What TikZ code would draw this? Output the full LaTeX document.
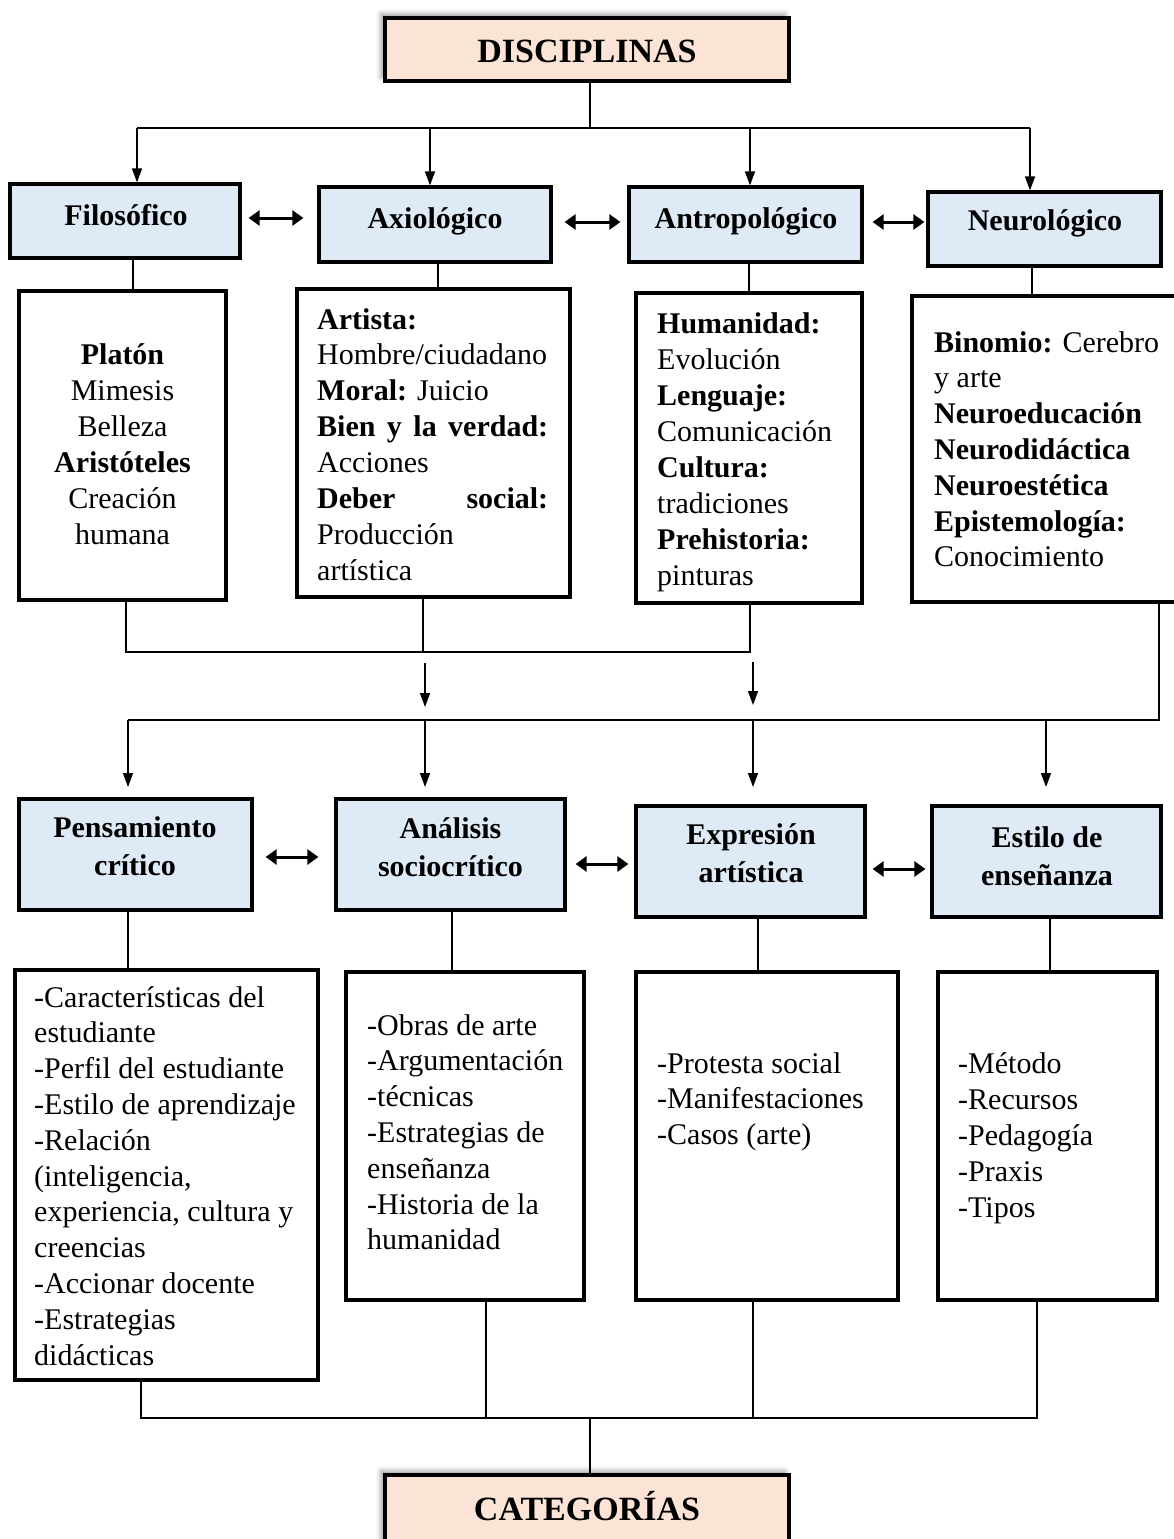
\documentclass[tikz,border=0pt]{standalone}
\usepackage{fontspec}
\setmainfont{Liberation Serif}
\usetikzlibrary{arrows.meta,shadows.blur}
\definecolor{hdrblue}{HTML}{DEEAF6}
\definecolor{peach}{HTML}{FBE4D5}
\newcommand\LBlock[2][36pt]{\vtop{\baselineskip=#1\relax\halign{##\hfil\cr#2\crcr}}}
\newcommand\CBlock[2][36pt]{\vtop{\baselineskip=#1\relax\halign{\hfil##\hfil\cr#2\crcr}}}
\begin{document}
\begin{tikzpicture}[x=1pt,y=-1pt,
  every node/.style={inner sep=0pt, font=\fontsize{30}{36}\selectfont},
  cbox/.style={draw=black, line width=3.2pt, rectangle, fill=white},
  hdr/.style={cbox, fill=hdrblue},
  endbox/.style={cbox, fill=peach, blur shadow={shadow xshift=-4pt, shadow yshift=4pt, shadow blur radius=5pt}},
  bt/.style={font=\fontsize{30}{36}\selectfont\bfseries},
  bigt/.style={font=\fontsize{34}{40}\selectfont\bfseries},
  ln/.style={line width=1.5pt},
  arr/.style={line width=1.5pt, -{Triangle[length=14pt,width=10pt]}},
  darr/.style={line width=3pt, {Triangle[length=11pt,width=15pt]}-{Triangle[length=11pt,width=15pt]}},
]
\useasboundingbox (0,0) rectangle (1173,1539);

% ---------- top ----------
\node[endbox, minimum width=404pt, minimum height=63pt] (disc) at (587,49.5) {};
\node[bigt, anchor=base] (discT) at (587,62) {DISCIPLINAS};

% ---------- row 1 headers ----------
\node[hdr, minimum width=230pt, minimum height=74pt] (filo) at (125,221) {};
\node[hdr, minimum width=232pt, minimum height=75pt] (axio) at (435,224.5) {};
\node[hdr, minimum width=233pt, minimum height=75pt] (antro) at (745.5,224.5) {};
\node[hdr, minimum width=233pt, minimum height=74pt] (neuro) at (1044.5,229) {};
\node[bt, anchor=base] (filoT) at (126,225) {Filosófico};
\node[bt, anchor=base] (axioT) at (435,228) {Axiológico};
\node[bt, anchor=base] (antroT) at (746,228) {Antropológico};
\node[bt, anchor=base] (neuroT) at (1045,230) {Neurológico};

% ---------- row 1 contents ----------
\node[cbox, minimum width=207pt, minimum height=309pt] (filoC) at (122.5,445.5) {};
\node[cbox, minimum width=273pt, minimum height=308pt] (axioC) at (433.5,443) {};
\node[cbox, minimum width=226pt, minimum height=310pt] (antroC) at (749,448) {};
\node[cbox, minimum width=268pt, minimum height=306pt] (neuroC) at (1046,449) {};

\node[anchor=base] (filoX) at (122.5,364) {\CBlock{\textbf{Platón}\cr Mimesis\cr Belleza\cr \textbf{Aristóteles}\cr Creación\cr humana}};
\node[anchor=base west] (axioX) at (317,329) {\LBlock[35.9pt]{\textbf{Artista:}\cr Hombre/ciudadano\cr \textbf{Moral:} Juicio\cr \hbox to 231pt{\bfseries Bien\hfil y\hfil la\hfil verdad:}\cr Acciones\cr \hbox to 231pt{\bfseries Deber\hfil social:}\cr Producción\cr artística}};
\node[anchor=base west] (antroX) at (657,333) {\LBlock[36pt]{\textbf{Humanidad:}\cr Evolución\cr \textbf{Lenguaje:}\cr Comunicación\cr \textbf{Cultura:}\cr tradiciones\cr \textbf{Prehistoria:}\cr pinturas}};
\node[anchor=base west] (neuroX) at (934,352) {\LBlock[35.8pt]{\textbf{Binomio:} Cerebro\cr y arte\cr \textbf{Neuroeducación}\cr \textbf{Neurodidáctica}\cr \textbf{Neuroestética}\cr \textbf{Epistemología:}\cr Conocimiento}};

% ---------- row 2 headers ----------
\node[hdr, minimum width=233pt, minimum height=111pt] (pc) at (135.5,854.5) {};
\node[hdr, minimum width=229pt, minimum height=111pt] (as) at (450.5,854.5) {};
\node[hdr, minimum width=229pt, minimum height=111pt] (ea) at (750.5,861.5) {};
\node[hdr, minimum width=229pt, minimum height=111pt] (ee) at (1046.5,861.5) {};
\node[bt, anchor=base] (pcT) at (135,837) {\CBlock[38pt]{Pensamiento\cr crítico}};
\node[bt, anchor=base] (asT) at (450.5,838) {\CBlock[38pt]{Análisis\cr sociocrítico}};
\node[bt, anchor=base] (eaT) at (751,844) {\CBlock[38pt]{Expresión\cr artística}};
\node[bt, anchor=base] (eeT) at (1047,847) {\CBlock[38pt]{Estilo de\cr enseñanza}};

% ---------- row 2 contents ----------
\node[cbox, minimum width=303pt, minimum height=410pt] (pcC) at (166.5,1175) {};
\node[cbox, minimum width=238pt, minimum height=328pt] (asC) at (465,1136) {};
\node[cbox, minimum width=262pt, minimum height=328pt] (eaC) at (767,1136) {};
\node[cbox, minimum width=219pt, minimum height=328pt] (eeC) at (1047.5,1136) {};

\node[anchor=base west] (pcX) at (34,1007) {\LBlock[35.8pt]{-Características del\cr estudiante\cr -Perfil del estudiante\cr -Estilo de aprendizaje\cr -Relación\cr (inteligencia,\cr experiencia, cultura y\cr creencias\cr -Accionar docente\cr -Estrategias\cr didácticas}};
\node[anchor=base west] (asX) at (367,1035) {\LBlock[35.8pt]{-Obras de arte\cr -Argumentación\cr -técnicas\cr -Estrategias de\cr enseñanza\cr -Historia de la\cr humanidad}};
\node[anchor=base west] (eaX) at (657,1073) {\LBlock[35.8pt]{-Protesta social\cr -Manifestaciones\cr -Casos (arte)}};
\node[anchor=base west] (eeX) at (958,1073) {\LBlock[36pt]{-Método\cr -Recursos\cr -Pedagogía\cr -Praxis\cr -Tipos}};

% ---------- bottom ----------
\node[endbox, minimum width=404pt, minimum height=85pt] (cat) at (587,1517.5) {};
\node[bigt, anchor=base] (catT) at (587,1520) {CATEGORÍAS};

% ---------- connectors: top ----------
\coordinate (jd) at (590,128);
\coordinate (hl) at (137,128);
\coordinate (h2) at (430,128);
\coordinate (h3) at (750,128);
\coordinate (hr) at (1030,128);
\draw[ln] (disc.south -| jd) -- (jd);
\draw[ln] (hl) -- (hr);
\draw[arr] (hl) -- (hl |- filo.north);
\draw[arr] (h2) -- (h2 |- axio.north);
\draw[arr] (h3) -- (h3 |- antro.north);
\draw[arr] (hr) -- (hr |- neuro.north);

\draw[darr] ([shift={(7,-3)}]filo.east) -- ([shift={(-14,-6.5)}]axio.west);
\draw[darr] ([shift={(12,-2.5)}]axio.east) -- ([shift={(-7,-2.5)}]antro.west);
\draw[darr] ([shift={(9,-2.5)}]antro.east) -- ([shift={(-2,-7)}]neuro.west);

\coordinate (v1) at (133,0);
\coordinate (v2) at (438,0);
\coordinate (v3) at (749,0);
\coordinate (v4) at (1032,0);
\draw[ln] (filo.south -| v1) -- (filoC.north -| v1);
\draw[ln] (axio.south -| v2) -- (axioC.north -| v2);
\draw[ln] (antro.south -| v3) -- (antroC.north -| v3);
\draw[ln] (neuro.south -| v4) -- (neuroC.north -| v4);

% ---------- connectors: middle ----------
\coordinate (w1) at (126,652);
\coordinate (w2) at (423,652);
\coordinate (w3) at (750,652);
\draw[ln] (filoC.south -| w1) -- (w1) -- (w3) -- (antroC.south -| w3);
\draw[ln] (axioC.south -| w2) -- (w2);

\coordinate (fa1) at (425,663);
\coordinate (fa1e) at (425,707);
\coordinate (fa2) at (753,662);
\coordinate (fa2e) at (753,705);
\draw[arr] (fa1) -- (fa1e);
\draw[arr] (fa2) -- (fa2e);

\coordinate (n1) at (1159,720);
\coordinate (d1) at (128,720);
\coordinate (d2) at (425,720);
\coordinate (d3) at (753,720);
\coordinate (d4) at (1046,720);
\draw[ln] ([yshift=3pt]neuroC.south -| n1) -- (n1) -- (d1);
\coordinate (e1) at (128,787);
\coordinate (e2) at (425,787);
\coordinate (e3) at (753,787);
\coordinate (e4) at (1046,787);
\draw[arr] (d1) -- (e1);
\draw[arr] (d2) -- (e2);
\draw[arr] (d3) -- (e3);
\draw[arr] (d4) -- (e4);

% ---------- connectors: row 2 ----------
\draw[darr] ([shift={(12,2.5)}]pc.east) -- ([shift={(-16,2.5)}]as.west);
\draw[darr] ([shift={(9,9.5)}]as.east) -- ([shift={(-6,2.5)}]ea.west);
\draw[darr] ([shift={(6,7.5)}]ea.east) -- ([shift={(-5,7.5)}]ee.west);

\coordinate (u1) at (128,0);
\coordinate (u2) at (452,0);
\coordinate (u3) at (758,0);
\coordinate (u4) at (1050,0);
\draw[ln] (pc.south -| u1) -- (pcC.north -| u1);
\draw[ln] (as.south -| u2) -- (asC.north -| u2);
\draw[ln] (ea.south -| u3) -- (eaC.north -| u3);
\draw[ln] (ee.south -| u4) -- (eeC.north -| u4);

% ---------- connectors: bottom ----------
\coordinate (b1) at (141,1418);
\coordinate (b2) at (486,1418);
\coordinate (b3) at (753,1418);
\coordinate (b4) at (1037,1418);
\coordinate (bc) at (590,1418);
\draw[ln] (pcC.south -| b1) -- (b1) -- (b4) -- (eeC.south -| b4);
\draw[ln] (asC.south -| b2) -- (b2);
\draw[ln] (eaC.south -| b3) -- (b3);
\draw[ln] (bc) -- (cat.north -| bc);
\end{tikzpicture}
\end{document}
